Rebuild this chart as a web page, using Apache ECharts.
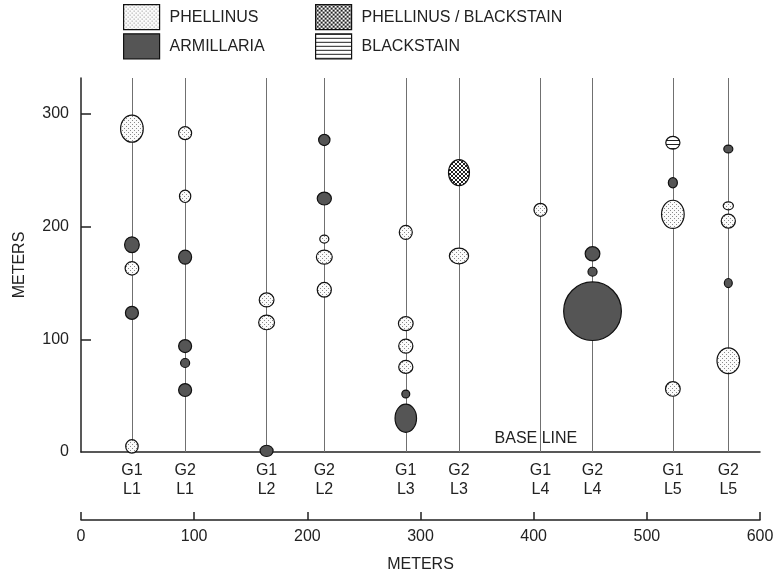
<!DOCTYPE html>
<html>
<head>
<meta charset="utf-8">
<script src="https://cdn.jsdelivr.net/npm/echarts@6/dist/echarts.min.js"></script>
<style>
html,body{margin:0;padding:0;background:#fff;}
#chart{width:779px;height:578px;}
</style>
</head>
<body>
<div id="chart"></div>
<script>
// Transect (sample line) positions along the base line, meters
const transectX = [45, 92, 164, 215, 287, 334, 406, 452, 523, 572];
const transectLabels = ['G1\nL1', 'G2\nL1', 'G1\nL2', 'G2\nL2', 'G1\nL3', 'G2\nL3', 'G1\nL4', 'G2\nL4', 'G1\nL5', 'G2\nL5'];
const yTickValues = [0, 100, 200, 300];
const baseLineLabel = [[402, 11.6]];

// Infection centres: [transect position m, distance along line m, width m, length m]
const phellinus = [
  [45, 287, 20, 24], [45, 163, 12, 12], [45, 5, 11, 12],
  [92, 283, 11.5, 11.5], [92, 227, 10, 11],
  [164, 135, 13, 12.5], [164, 115, 14, 13],
  [215, 189, 8, 7], [215, 173, 14, 12.5], [215, 144, 12.5, 13],
  [287, 195, 11.5, 12.5], [287, 114, 13, 12.5], [287, 94, 12.5, 12.5], [287, 75.5, 12.5, 11.5],
  [334, 174, 17, 14],
  [406, 215, 11.5, 11.5],
  [523, 211, 20, 25], [523, 56, 13, 13],
  [572, 218.5, 9, 7], [572, 205, 12.5, 12.5], [572, 81, 20, 23]
];
const armillaria = [
  [45, 184, 13, 14], [45, 123.5, 11.5, 11.5],
  [92, 173, 11.5, 12.5], [92, 94, 11.5, 11.5], [92, 79, 8, 8], [92, 55, 11.5, 11.5],
  [164, 1, 11.5, 10],
  [215, 277, 10, 10], [215, 225, 12.5, 11.5],
  [287, 51.5, 7, 7], [287, 30, 19, 25],
  [452, 176, 13, 12.5], [452, 160, 8, 8], [452, 125, 51, 52],
  [523, 239, 8, 9],
  [572, 269, 8, 7], [572, 150, 7, 8]
];
const phellinusBlackstain = [[334, 248, 18.5, 23]];
const blackstain = [[523, 274.5, 12.5, 11.5]];

function makePattern(w, h, draw) {
  const c = document.createElement('canvas');
  c.width = w; c.height = h;
  const ctx = c.getContext('2d');
  draw(ctx);
  return { image: c, repeat: 'repeat' };
}
const stipple = makePattern(4, 4, ctx => {
  ctx.fillStyle = '#fbfbfb'; ctx.fillRect(0, 0, 4, 4);
  ctx.fillStyle = '#8a8a8a'; ctx.fillRect(0, 0, 1, 1); ctx.fillRect(2, 2, 1, 1);
});
const crosshatch = makePattern(4, 4, ctx => {
  ctx.fillStyle = '#ffffff'; ctx.fillRect(0, 0, 4, 4);
  ctx.fillStyle = '#222222';
  for (let i = 0; i < 4; i++) { ctx.fillRect(i, i, 1, 1); ctx.fillRect(3 - i, i, 1, 1); }
});
const hlines = makePattern(4, 4, ctx => {
  ctx.fillStyle = '#ffffff'; ctx.fillRect(0, 0, 4, 4);
  ctx.fillStyle = '#222222'; ctx.fillRect(0, 0, 4, 1);
});

const FONT = 'Liberation Sans';
const INK = '#222';
const K = 0.5523;

function ellipsePath(cx, cy, rx, ry) {
  const ox = rx * K, oy = ry * K;
  return 'M' + (cx - rx) + ',' + cy +
    'C' + (cx - rx) + ',' + (cy - oy) + ' ' + (cx - ox) + ',' + (cy - ry) + ' ' + cx + ',' + (cy - ry) +
    'C' + (cx + ox) + ',' + (cy - ry) + ' ' + (cx + rx) + ',' + (cy - oy) + ' ' + (cx + rx) + ',' + cy +
    'C' + (cx + rx) + ',' + (cy + oy) + ' ' + (cx + ox) + ',' + (cy + ry) + ' ' + cx + ',' + (cy + ry) +
    'C' + (cx - ox) + ',' + (cy + ry) + ' ' + (cx - rx) + ',' + (cy + oy) + ' ' + (cx - rx) + ',' + cy + 'Z';
}

function centreSeries(name, data, fill) {
  return {
    name: name, type: 'custom', xAxisIndex: 0, yAxisIndex: 0,
    data: data, z: 5, silent: true,
    itemStyle: { color: fill, borderColor: '#111', borderWidth: 1.2 },
    encode: { x: 0, y: 1 },
    renderItem: function (params, api) {
      const c = api.coord([api.value(0), api.value(1)]);
      const w = api.size([api.value(2), 0])[0];
      const h = api.size([0, api.value(3)])[1];
      return {
        type: 'path',
        shape: { pathData: ellipsePath(c[0], c[1], w / 2, h / 2) },
        style: { fill: fill, stroke: '#111', lineWidth: 1.2 }
      };
    }
  };
}

const legendCommon = {
  orient: 'vertical', top: 4, padding: 0, itemWidth: 36, itemHeight: 25, itemGap: 3,
  icon: 'rect', selectedMode: false,
  itemStyle: { borderColor: '#111', borderWidth: 1.2 },
  textStyle: { fontFamily: FONT, fontSize: 16, color: INK, padding: [0, 0, 0, 5] }
};

const option = {
  animation: false,
  backgroundColor: '#fff',
  textStyle: { fontFamily: FONT },
  legend: [
    Object.assign({ left: 123, data: ['PHELLINUS', 'ARMILLARIA'] }, legendCommon),
    Object.assign({ left: 315, data: ['PHELLINUS / BLACKSTAIN', 'BLACKSTAIN'] }, legendCommon)
  ],
  grid: [
    { left: 81, right: 19, top: 78, bottom: 126 },
    { left: 81, right: 19, top: 519, height: 1 }
  ],
  xAxis: [
    {
      gridIndex: 0, type: 'value', min: 0, max: 600,
      axisLine: { show: true, onZero: false, lineStyle: { color: INK, width: 1.5 } },
      axisTick: { show: false }, splitLine: { show: false },
      axisLabel: {
        customValues: transectX,
        formatter: v => transectLabels[transectX.indexOf(v)] || '',
        fontFamily: FONT, fontSize: 16, lineHeight: 19, color: INK, margin: 9
      }
    },
    {
      gridIndex: 1, type: 'value', min: 0, max: 600, interval: 100,
      position: 'bottom',
      axisLine: { show: true, onZero: false, lineStyle: { color: INK, width: 1.5 } },
      axisTick: { show: true, inside: true, length: 8, lineStyle: { color: INK, width: 1.5 } },
      splitLine: { show: false },
      axisLabel: { fontFamily: FONT, fontSize: 16, color: INK, margin: 9 },
      name: 'METERS', nameLocation: 'middle', nameGap: 37,
      nameTextStyle: { fontFamily: FONT, fontSize: 16, color: INK }
    }
  ],
  yAxis: [
    {
      gridIndex: 0, type: 'value', min: 0, max: 332,
      axisLine: { show: true, onZero: false, lineStyle: { color: INK, width: 1.5 } },
      axisTick: { show: true, inside: true, length: 10, customValues: [100, 200, 300], lineStyle: { color: INK, width: 1.5 } },
      splitLine: { show: false },
      axisLabel: { customValues: yTickValues, fontFamily: FONT, fontSize: 16, color: INK, margin: 12 },
      name: 'METERS', nameLocation: 'middle', nameGap: 53, nameRotate: 90,
      nameTextStyle: { fontFamily: FONT, fontSize: 16, color: INK }
    },
    { gridIndex: 1, type: 'value', show: false, min: 0, max: 1 }
  ],
  series: [
    {
      name: 'transects', type: 'scatter', xAxisIndex: 0, yAxisIndex: 0,
      data: [], z: 1, silent: true,
      markLine: {
        silent: true, symbol: 'none', animation: false,
        label: { show: false },
        lineStyle: { color: '#707070', width: 1, type: 'solid' },
        emphasis: { disabled: true },
        data: transectX.map(x => ({ xAxis: x }))
      }
    },
    {
      name: 'baseLineLabel', type: 'scatter', xAxisIndex: 0, yAxisIndex: 0,
      data: baseLineLabel, symbolSize: 0, z: 3, silent: true,
      itemStyle: { opacity: 1 },
      label: { show: true, position: 'inside', formatter: 'BASE LINE', fontFamily: FONT, fontSize: 16, color: INK, opacity: 1 }
    },
    centreSeries('PHELLINUS', phellinus, stipple),
    centreSeries('ARMILLARIA', armillaria, '#555555'),
    centreSeries('PHELLINUS / BLACKSTAIN', phellinusBlackstain, crosshatch),
    centreSeries('BLACKSTAIN', blackstain, hlines)
  ]
};

const chart = echarts.init(document.getElementById('chart'), null, { renderer: 'canvas' });
chart.setOption(option);
</script>
</body>
</html>
